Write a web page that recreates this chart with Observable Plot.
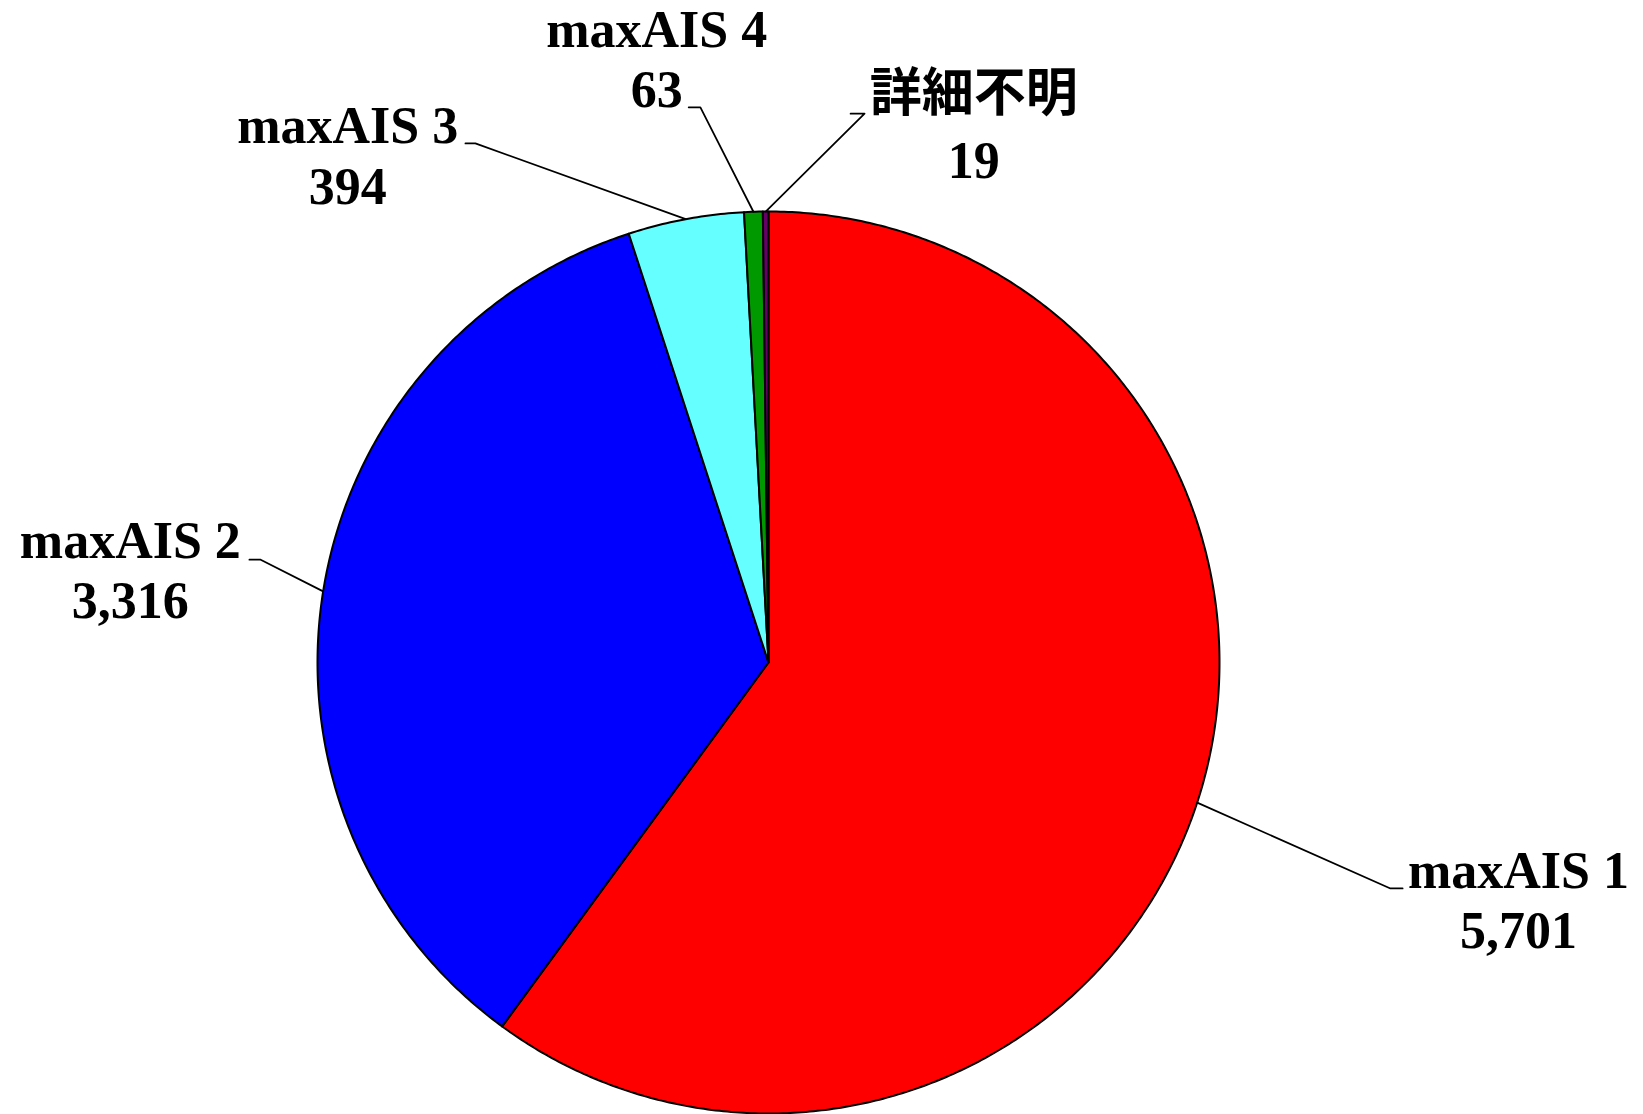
<!DOCTYPE html>
<html>
<head>
<meta charset="utf-8">
<script src="https://cdn.jsdelivr.net/npm/d3@7"></script>
<script src="https://cdn.jsdelivr.net/npm/@observablehq/plot@0.6"></script>
<style>
  html, body { margin: 0; padding: 0; background: #fff; }
  #chart svg { display: block; }
</style>
</head>
<body>
<div id="chart"></div>
<script>
// ---- data ----
const categories = ["maxAIS 1", "maxAIS 2", "maxAIS 3", "maxAIS 4", "詳細不明"];
const counts = [5701, 3316, 394, 63, 19];
const sliceColors = ["#ff0000", "#0000ff", "#66ffff", "#009900", "#660066"];

// ---- label layout (pie radius units, y up) ----
const labelLayout = [
  {elbowX: 1.379, elbowY: -0.501, endX: 1.406, textX: 1.663, nameY: -0.501, valueY: -0.634},
  {elbowX: -1.126, elbowY: 0.228, endX: -1.151, textX: -1.415, nameY: 0.231, valueY: 0.098},
  {elbowX: -0.650, elbowY: 1.151, endX: -0.672, textX: -0.933, nameY: 1.151, valueY: 1.016},
  {elbowX: -0.151, elbowY: 1.231, endX: -0.177, textX: -0.248, nameY: 1.364, valueY: 1.231},
  {elbowX: 0.213, elbowY: 1.217, endX: 0.182, textX: 0.455, nameY: 1.222, valueY: 1.075}
];

const data = categories.map((name, i) => ({name, value: counts[i]}));
const arcs = d3.pie().sort(null).value(d => d.value).startAngle(0).endAngle(2 * Math.PI)(data);

// slice polygons (center -> arc -> center)
const slicePts = [];
arcs.forEach(a => {
  const name = a.data.name;
  slicePts.push({name, x: 0, y: 0});
  const steps = Math.max(2, Math.ceil((a.endAngle - a.startAngle) / (Math.PI / 360)));
  for (let k = 0; k <= steps; ++k) {
    const t = a.startAngle + (a.endAngle - a.startAngle) * k / steps;
    slicePts.push({name, x: Math.sin(t), y: Math.cos(t)});
  }
  slicePts.push({name, x: 0, y: 0});
});

// leader lines
const leaderPts = [];
arcs.forEach((a, i) => {
  const mid = (a.startAngle + a.endAngle) / 2;
  const L = labelLayout[i];
  leaderPts.push({name: a.data.name, x: Math.sin(mid), y: Math.cos(mid)});
  leaderPts.push({name: a.data.name, x: L.elbowX, y: L.elbowY});
  leaderPts.push({name: a.data.name, x: L.endX, y: L.elbowY});
});

const labels = arcs.map((a, i) => ({
  name: a.data.name,
  value: d3.format(",")(a.data.value),
  x: labelLayout[i].textX,
  nameY: labelLayout[i].nameY,
  valueY: labelLayout[i].valueY,
  cjk: /[^\x00-\x7f]/.test(a.data.name)
}));

const serif = "'Liberation Serif', 'Times New Roman', serif";
const cjkFont = "'Noto Sans CJK JP', 'Noto Sans CJK SC', sans-serif";

const chart = Plot.plot({
  width: 1643,
  height: 1114,
  marginLeft: 317,
  marginRight: 424,
  marginTop: 211,
  marginBottom: 1,
  x: {domain: [-1, 1], axis: null},
  y: {domain: [-1, 1], axis: null},
  color: {domain: categories, range: sliceColors},
  style: {background: "white", overflow: "visible"},
  marks: [
    Plot.line(slicePts, {x: "x", y: "y", z: "name", fill: "name", stroke: "black", strokeWidth: 2, strokeLinejoin: "round", curve: "linear"}),
    Plot.line(leaderPts, {x: "x", y: "y", z: "name", stroke: "black", strokeWidth: 1.75, curve: "linear"}),
    Plot.text(labels.filter(d => !d.cjk), {x: "x", y: "nameY", text: "name", fontFamily: serif, fontWeight: "bold", fontSize: 52, fill: "black", lineAnchor: "bottom", textAnchor: "middle"}),
    Plot.text(labels.filter(d => d.cjk), {x: "x", y: "nameY", text: "name", fontFamily: cjkFont, fontWeight: "bold", fontSize: 52, fill: "black", lineAnchor: "bottom", textAnchor: "middle"}),
    Plot.text(labels, {x: "x", y: "valueY", text: "value", fontFamily: serif, fontWeight: "bold", fontSize: 52, fill: "black", lineAnchor: "bottom", textAnchor: "middle"})
  ]
});
document.getElementById("chart").appendChild(chart);
</script>
</body>
</html>
